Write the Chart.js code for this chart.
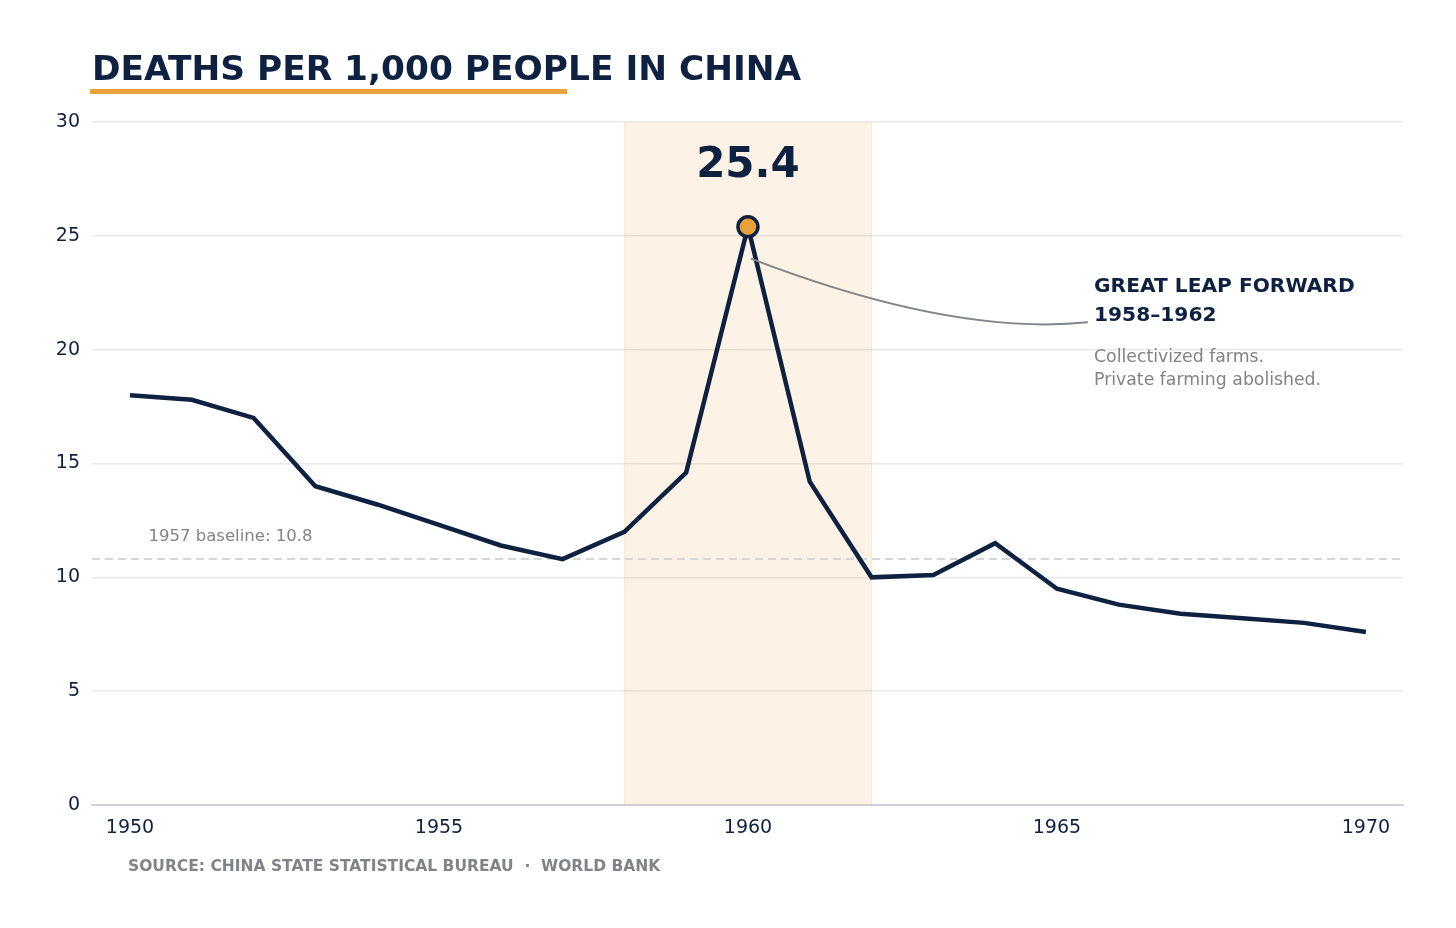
<!DOCTYPE html>
<html>
<head>
<meta charset="utf-8">
<script src="https://cdn.jsdelivr.net/npm/chart.js@4/dist/chart.umd.min.js"></script>
<style>
  html, body { margin: 0; padding: 0; background: #fff; }
  #wrap { width: 1456px; height: 928px; position: relative; }
</style>
</head>
<body>
<div id="wrap"><canvas id="deaths"></canvas></div>
<script>
const years = [1950, 1951, 1952, 1953, 1954, 1955, 1956, 1957, 1958, 1959, 1960,
               1961, 1962, 1963, 1964, 1965, 1966, 1967, 1968, 1969, 1970];
const deathRate = [18.0, 17.8, 17.0, 14.0, 13.2, 12.3, 11.4, 10.8, 12.0, 14.6, 25.4,
                   14.2, 10.0, 10.1, 11.5, 9.5, 8.8, 8.4, 8.2, 8.0, 7.6];
const xTicks = [1950, 1955, 1960, 1965, 1970];
const baseline = 10.8;
const bandStart = 1958, bandEnd = 1962;
const peakYear = 1960, peakValue = 25.4;

const navy = '#0f2140';
const orange = '#e8a23c';
const grey = '#808388';
const font = '"DejaVu Sans", sans-serif';

// Shaded band, baseline and the annotations, all placed through the scales
const extras = {
  id: 'extras',
  beforeDatasetsDraw(chart) {
    const { ctx, chartArea: a, scales: { x, y } } = chart;
    ctx.save();
    ctx.fillStyle = 'rgba(232,162,60,0.13)';
    ctx.fillRect(x.getPixelForValue(bandStart), a.top,
                 x.getPixelForValue(bandEnd) - x.getPixelForValue(bandStart), a.bottom - a.top);
    ctx.strokeStyle = 'rgba(232,162,60,0.18)';
    ctx.lineWidth = 1;
    [bandStart, bandEnd].forEach(v => {
      const px = x.getPixelForValue(v);
      ctx.beginPath(); ctx.moveTo(px, a.top); ctx.lineTo(px, a.bottom); ctx.stroke();
    });
    const by = y.getPixelForValue(baseline);
    ctx.strokeStyle = '#d4d6da';
    ctx.lineWidth = 2;
    ctx.setLineDash([8, 5]);
    ctx.beginPath(); ctx.moveTo(a.left, by); ctx.lineTo(a.right, by); ctx.stroke();
    ctx.setLineDash([]);
    ctx.fillStyle = grey;
    ctx.font = '16.5px ' + font;
    ctx.fillText('1957 baseline: ' + baseline, x.getPixelForValue(1950.3), by - 18);
    ctx.restore();
  },
  afterDatasetsDraw(chart) {
    const { ctx, scales: { x, y } } = chart;
    const px = x.getPixelForValue(peakYear), py = y.getPixelForValue(peakValue);
    ctx.save();
    // peak marker
    ctx.beginPath(); ctx.arc(px, py, 10, 0, Math.PI * 2);
    ctx.fillStyle = orange; ctx.fill();
    ctx.lineWidth = 3.5; ctx.strokeStyle = navy; ctx.stroke();
    ctx.fillStyle = navy;
    ctx.textAlign = 'center';
    ctx.font = 'bold 42px ' + font;
    ctx.fillText(String(peakValue), px, py - 50);
    // connector curve
    const sx = px + 3, sy = y.getPixelForValue(24);
    const ex = x.getPixelForValue(1965.5), ey = y.getPixelForValue(21.2);
    ctx.beginPath(); ctx.moveTo(sx, sy);
    ctx.quadraticCurveTo(x.getPixelForValue(1963.3), y.getPixelForValue(20.6), ex, ey);
    ctx.strokeStyle = grey; ctx.lineWidth = 2; ctx.stroke();
    // label block
    ctx.textAlign = 'left';
    const lx = x.getPixelForValue(1965.6);
    ctx.font = 'bold 20.2px ' + font;
    ctx.fillText('GREAT LEAP FORWARD', lx, 292);
    ctx.fillText('1958–1962', lx, 321);
    ctx.fillStyle = grey;
    ctx.font = '17.3px ' + font;
    ctx.fillText('Collectivized farms.', lx, 362);
    ctx.fillText('Private farming abolished.', lx, 385);
    // title and source
    ctx.fillStyle = navy;
    ctx.font = 'bold 34.4px ' + font;
    ctx.fillText('DEATHS PER 1,000 PEOPLE IN CHINA', 92, 80);
    ctx.fillStyle = orange;
    ctx.fillRect(90, 89, 477, 5);
    ctx.fillStyle = grey;
    ctx.font = 'bold 15.5px ' + font;
    ctx.fillText('SOURCE: CHINA STATE STATISTICAL BUREAU  ·  WORLD BANK', 128, 871);
    ctx.restore();
  }
};

new Chart(document.getElementById('deaths'), {
  type: 'line',
  data: {
    datasets: [{
      data: years.map((yr, i) => ({ x: yr, y: deathRate[i] })),
      borderColor: navy,
      borderWidth: 4.5,
      pointRadius: 0,
      tension: 0,
      fill: false
    }]
  },
  options: {
    responsive: true,
    maintainAspectRatio: false,
    animation: false,
    layout: { padding: { top: 122, right: 53, left: 0, bottom: 0 } },
    plugins: { legend: { display: false }, tooltip: { enabled: false } },
    scales: {
      x: {
        type: 'linear',
        min: 1949.385,
        max: 1970.6,
        afterFit(s) { s.height = 123; },
        afterBuildTicks(s) { s.ticks = xTicks.map(v => ({ value: v })); },
        grid: { display: false, drawTicks: false },
        border: { color: '#cfd2d8', width: 2 },
        ticks: { color: navy, font: { family: font, size: 19 }, padding: 12, callback: v => String(v) }
      },
      y: {
        min: 0,
        max: 30,
        afterFit(s) { s.width = 92; },
        grid: { color: '#e8e9ec', lineWidth: 1.5, drawTicks: false },
        border: { display: false },
        ticks: { stepSize: 5, color: navy, font: { family: font, size: 19 }, padding: 12 }
      }
    }
  },
  plugins: [extras]
});
</script>
</body>
</html>
